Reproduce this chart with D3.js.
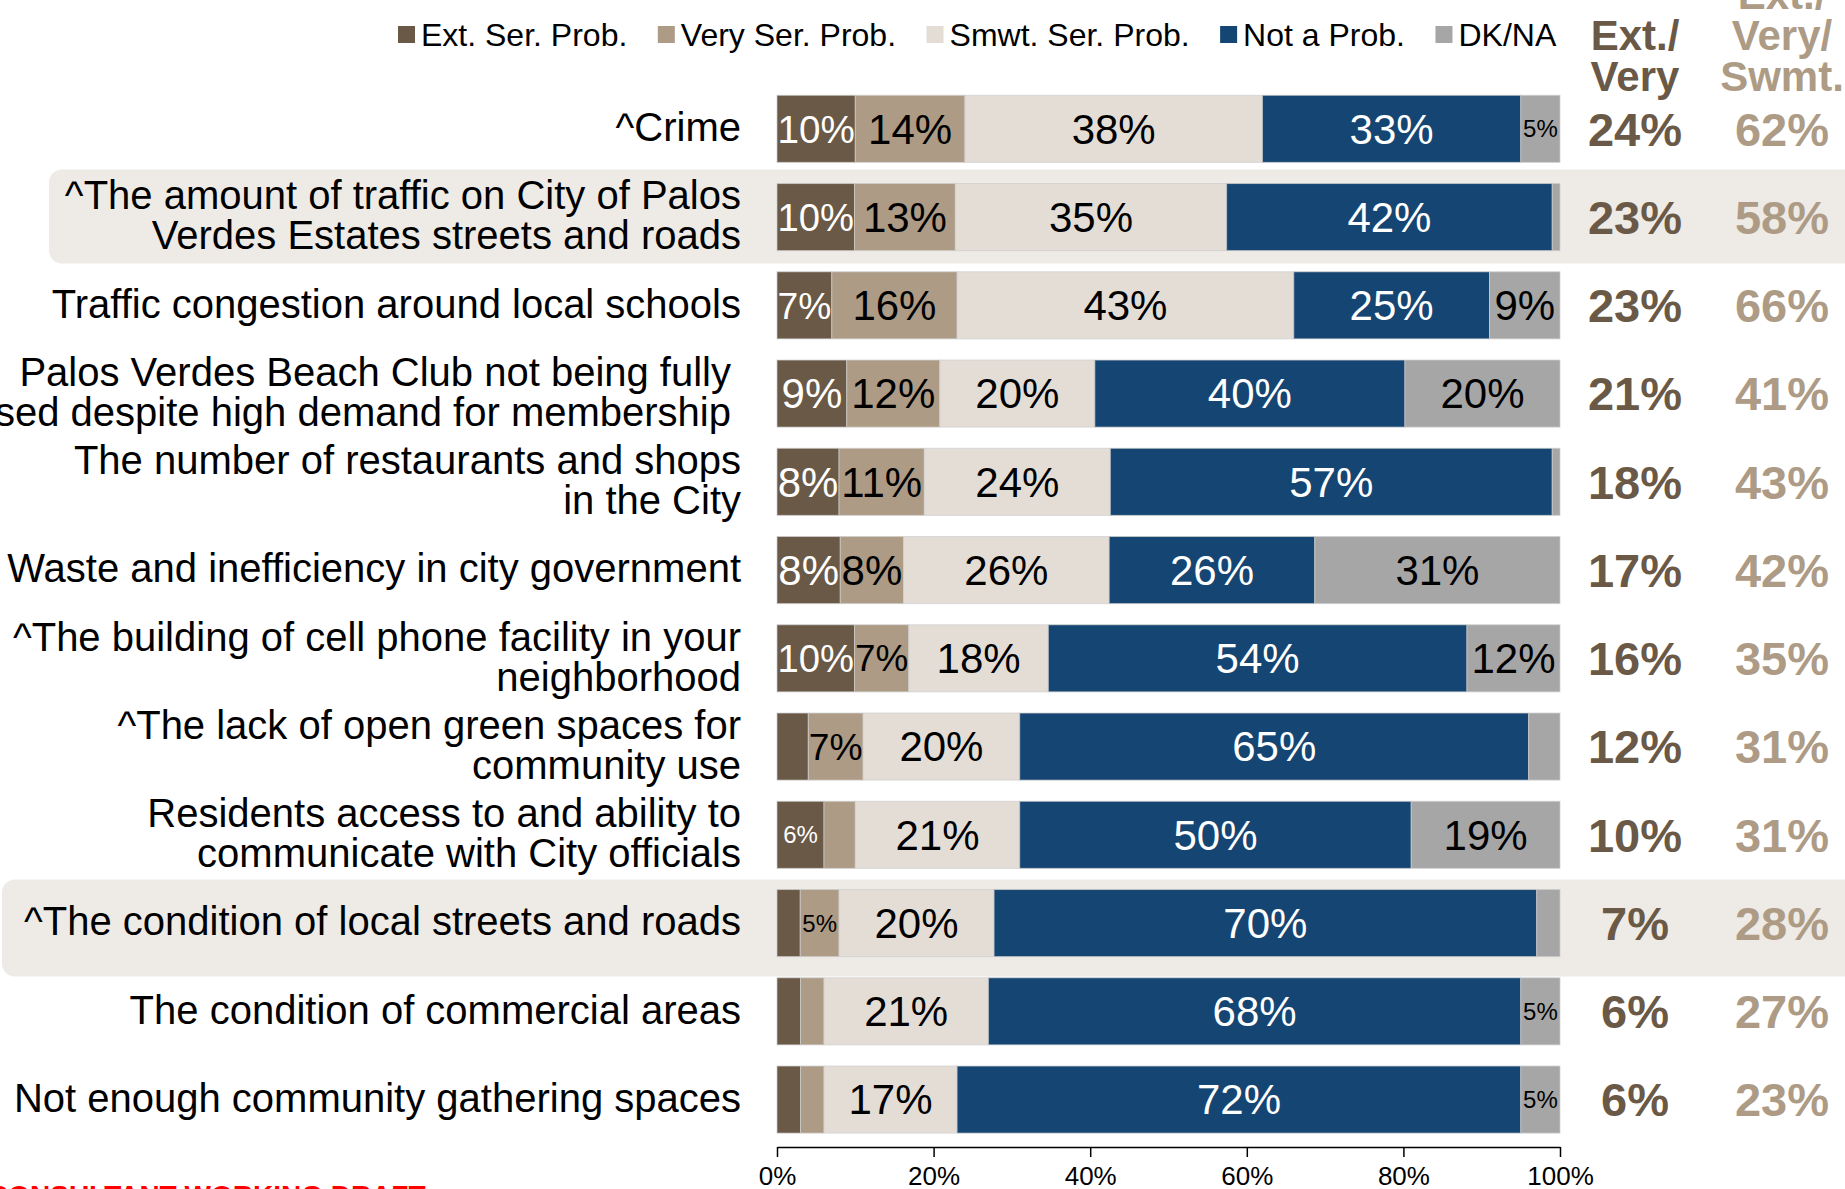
<!DOCTYPE html>
<html>
<head>
<meta charset="utf-8">
<script src="https://cdn.jsdelivr.net/npm/d3@7"></script>
<style>
  html, body { margin: 0; padding: 0; background: #fff; }
  svg { display: block; font-family: "Liberation Sans", Arial, Helvetica, sans-serif; }
</style>
</head>
<body>
<svg id="chart" width="1845" height="1189"></svg>
<script>
// Survey items, top to bottom ("\n" marks a line break in the label)
const categories = [
  "^Crime",
  "^The amount of traffic on City of Palos\nVerdes Estates streets and roads",
  "Traffic congestion around local schools",
  "Palos Verdes Beach Club not being fully\nused despite high demand for membership",
  "The number of restaurants and shops\nin the City",
  "Waste and inefficiency in city government",
  "^The building of cell phone facility in your\nneighborhood",
  "^The lack of open green spaces for\ncommunity use",
  "Residents access to and ability to\ncommunicate with City officials",
  "^The condition of local streets and roads",
  "The condition of commercial areas",
  "Not enough community gathering spaces"
];

// Response shares (%)
const extSer  = [10, 10,  7,  9,  8,  8, 10,  4,  6,  3,  3,  3];
const verySer = [14, 13, 16, 12, 11,  8,  7,  7,  4,  5,  3,  3];
const smwtSer = [38, 35, 43, 20, 24, 26, 18, 20, 21, 20, 21, 17];
const notProb = [33, 42, 25, 40, 57, 26, 54, 65, 50, 70, 68, 72];
const dkNa    = [ 5,  1,  9, 20,  1, 31, 12,  4, 19,  3,  5,  5];

// Summary columns (%)
const extVery     = [24, 23, 23, 21, 18, 17, 16, 12, 10, 7, 6, 6];
const extVerySwmt = [62, 58, 66, 41, 43, 42, 35, 31, 31, 28, 27, 23];

const seriesNames = ["Ext. Ser. Prob.", "Very Ser. Prob.", "Smwt. Ser. Prob.", "Not a Prob.", "DK/NA"];
const axisTicks = [0, 0.2, 0.4, 0.6, 0.8, 1];

// ---- styling ----
const keys = ["ext", "very", "smwt", "not", "dk"];
const fills = { ext: "#6A5946", very: "#AD9B85", smwt: "#E4DDD6", not: "#154572", dk: "#A6A6A6" };
const labelInk = { ext: "#fff", very: "#000", smwt: "#000", not: "#fff", dk: "#000" };
const darkHead = "#6A5946", lightHead = "#AD9B85";
const bandFill = "#EEEAE5";
const highlightRows = [{ row: 1, left: 49, above: 14, below: 13 }, { row: 9, left: 2, above: 10, below: 20 }];
const labelNudge = { 3: -10 };

const svg = d3.select("#chart");
const W = 1845, H = 1189;

const rows = categories.map((c, i) => ({
  cat: c, ext: extSer[i], very: verySer[i], smwt: smwtSer[i], not: notProb[i], dk: dkNa[i]
}));

const x = d3.scaleLinear().domain([0, 1]).range([777, 1560]);
const y = d3.scaleBand().domain(categories).range([84.7, 1143.7]).paddingInner(0.24).paddingOuter(0.12);
const bw = y.bandwidth();

// highlighted row backgrounds
svg.append("g").selectAll("rect").data(highlightRows).join("rect")
  .attr("x", d => d.left)
  .attr("y", d => y(categories[d.row]) - d.above)
  .attr("width", W + 20)
  .attr("height", d => bw + d.above + d.below)
  .attr("rx", 13)
  .attr("fill", bandFill);

// stacked 100% bars
const stacked = d3.stack().keys(keys).offset(d3.stackOffsetExpand)(rows);

const layers = svg.append("g").selectAll("g").data(stacked).join("g")
  .attr("fill", s => fills[s.key]);

layers.selectAll("rect").data(s => s.map(d => ({ d, key: s.key }))).join("rect")
  .attr("x", o => x(o.d[0]))
  .attr("y", o => y(o.d.data.cat))
  .attr("width", o => x(o.d[1]) - x(o.d[0]))
  .attr("height", bw)
  .attr("stroke", "rgba(205,205,205,0.7)")
  .attr("stroke-width", 1);

// segment value labels
const segLabels = svg.append("g").attr("text-anchor", "middle");
stacked.forEach(s => {
  s.forEach(d => {
    const v = d.data[s.key];
    if (v < 5) return;
    const x0 = x(d[0]), x1 = x(d[1]);
    const size = v >= 7 ? 42 : 24;
    const cy = y(d.data.cat) + bw / 2;
    const t = segLabels.append("text")
      .attr("x", (x0 + x1) / 2)
      .attr("y", cy + size * 0.355)
      .attr("font-size", size)
      .attr("fill", labelInk[s.key])
      .text(v + "%");
    const len = t.node().getComputedTextLength();
    const room = x1 - x0 - 1;
    if (len > room) {
      const fs = size * room / len;
      t.attr("font-size", fs).attr("y", cy + fs * 0.355);
    }
  });
});

// category labels
const catG = svg.append("g").attr("text-anchor", "end").attr("font-size", 40).attr("fill", "#000");
categories.forEach((c, i) => {
  const lines = c.split("\n");
  const cy = y(c) + bw / 2 - 2;
  const lh = 40;
  const ax0 = 741 + (labelNudge[i] || 0);
  const t = catG.append("text").attr("x", ax0);
  lines.forEach((ln, k) => {
    t.append("tspan")
      .attr("x", ax0)
      .attr("y", cy + (k - (lines.length - 1) / 2) * lh + 40 * 0.355)
      .text(ln);
  });
});

// x axis
const axisY = 1147;
const ax = svg.append("g").attr("transform", `translate(0,${axisY})`)
  .call(d3.axisBottom(x).tickValues(axisTicks).tickFormat(d3.format(".0%"))
    .tickSize(10).tickSizeOuter(0).tickPadding(10));
ax.select(".domain").attr("stroke", "#000").attr("stroke-width", 1.5);
ax.selectAll(".tick line").attr("stroke", "#000").attr("stroke-width", 1.5);
ax.selectAll(".tick text").attr("font-size", 26).attr("fill", "#000")
  .attr("font-family", "'Liberation Sans', Arial, sans-serif");

// legend
const legend = svg.append("g").attr("font-size", 32);
let lx = 398;
seriesNames.forEach((name, i) => {
  legend.append("rect").attr("x", lx).attr("y", 26).attr("width", 17).attr("height", 17)
    .attr("fill", fills[keys[i]]);
  const t = legend.append("text").attr("x", lx + 23).attr("y", 46).attr("fill", "#000").text(name);
  lx += 23 + t.node().getComputedTextLength() + 30.5;
});

// summary columns
const col1 = 1635, col2 = 1782;
const head = svg.append("g").attr("text-anchor", "middle").attr("font-weight", "bold").attr("font-size", 42);
[["Ext./", 50], ["Very", 91]].forEach(([s, yy]) =>
  head.append("text").attr("x", col1).attr("y", yy).attr("fill", darkHead).text(s));
[["Ext./", 9], ["Very/", 50], ["Swmt.", 91]].forEach(([s, yy]) =>
  head.append("text").attr("x", col2).attr("y", yy).attr("fill", lightHead).text(s));

const vals = svg.append("g").attr("text-anchor", "middle").attr("font-weight", "bold").attr("font-size", 47);
categories.forEach((c, i) => {
  const base = y(c) + bw / 2 + 47 * 0.355;
  vals.append("text").attr("x", col1).attr("y", base).attr("fill", darkHead).text(extVery[i] + "%");
  vals.append("text").attr("x", col2).attr("y", base).attr("fill", lightHead).text(extVerySwmt[i] + "%");
});

// draft stamp
svg.append("text").attr("x", -12).attr("y", 1205)
  .attr("font-size", 28).attr("font-weight", "bold").attr("fill", "#FF0000")
  .text("CONSULTANT WORKING DRAFT");
</script>
</body>
</html>
